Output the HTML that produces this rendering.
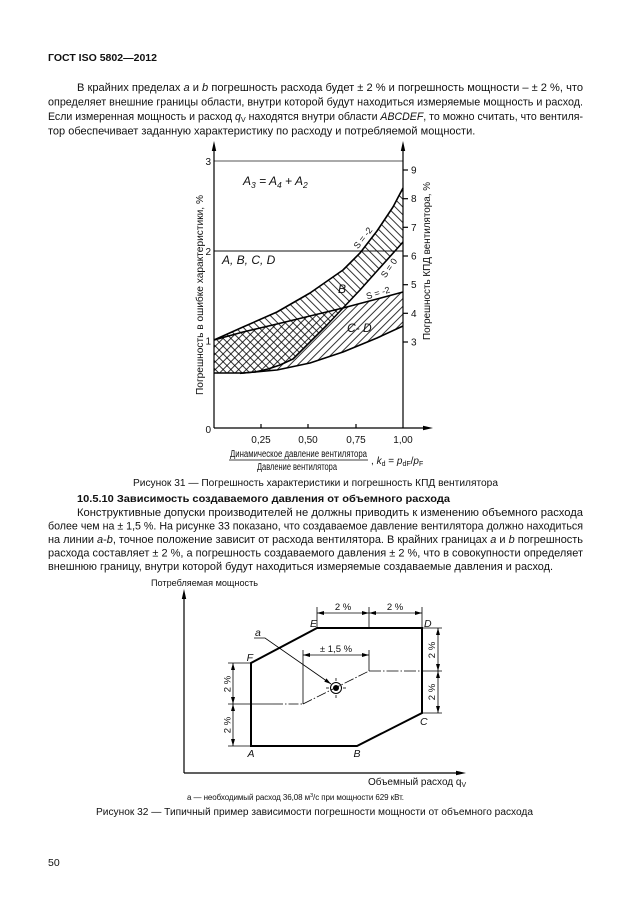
<!DOCTYPE html>
<html><head><meta charset="utf-8"><style>
html,body{margin:0;padding:0;background:#fff;}
svg{display:block;}
text{font-family:"Liberation Sans",Arial,sans-serif;fill:#111;}
</style></head><body>
<svg width="630" height="913" viewBox="0 0 630 913" xmlns="http://www.w3.org/2000/svg">
<defs>
<pattern id="hb" patternUnits="userSpaceOnUse" width="5.5" height="10" patternTransform="rotate(-45)"><line x1="1" y1="0" x2="1" y2="10" stroke="#000" stroke-width="0.8"/></pattern>
<pattern id="hc" patternUnits="userSpaceOnUse" width="5.5" height="10" patternTransform="rotate(45)"><line x1="1" y1="0" x2="1" y2="10" stroke="#000" stroke-width="0.8"/></pattern>
<marker id="ar" markerUnits="userSpaceOnUse" markerWidth="7" markerHeight="4" refX="7" refY="2" orient="auto-start-reverse"><path d="M0,0 L7,2 L0,4 z" fill="#000"/></marker>
</defs>
<rect width="630" height="913" fill="#fff"/>

<!-- Header -->
<text x="48" y="61" font-size="10.5" font-weight="bold" textLength="109" lengthAdjust="spacingAndGlyphs">ГОСТ ISO 5802—2012</text>

<!-- Paragraph 1 -->
<g font-size="11">
<text x="77" y="91" textLength="506" lengthAdjust="spacingAndGlyphs">В крайних пределах <tspan font-style="italic">a</tspan> и <tspan font-style="italic">b</tspan> погрешность расхода будет ± 2 % и погрешность мощности – ± 2 %, что</text>
<text x="48" y="105.5" textLength="535" lengthAdjust="spacingAndGlyphs">определяет внешние границы области, внутри которой будут находиться измеряемые мощность и расход.</text>
<text x="48" y="120" textLength="535" lengthAdjust="spacingAndGlyphs">Если измеренная мощность и расход <tspan font-style="italic">q</tspan><tspan font-size="7.5" dy="2">V</tspan><tspan dy="-2"> находятся внутри области </tspan><tspan font-style="italic">ABCDEF</tspan>, то можно считать, что вентиля-</text>
<text x="48" y="134.5">тор обеспечивает заданную характеристику по расходу и потребляемой мощности.</text>
</g>

<!-- Chart 1 -->
<polygon points="214,340 243,327 277,312 310,293 343,270 360,253 377,231 393,207 403,188 403,242 395,251 377,271 360,290 343,308 327,325 310,342 293,359 280,365 268,369 255,372 240,373.3 214,373" fill="url(#hb)"/>
<polygon points="214,340 243,332 277,324 310,316 343,308 377,299 403,292 403,326 377,338 343,352 310,363 277,370 243,373 214,373" fill="url(#hc)"/>

<line x1="214" y1="161" x2="403" y2="161" stroke="#555" stroke-width="0.9"/>
<line x1="214" y1="251" x2="403" y2="251" stroke="#111" stroke-width="0.9"/>

<g fill="none" stroke="#000" stroke-width="1.6" stroke-linejoin="round">
<polyline points="214,340 243,327 277,312 310,293 343,270 360,253 377,231 393,207 403,188"/>
<polyline points="240,373.3 255,372 268,369 280,365 293,359 310,342 327,325 343,308 360,290 377,271 395,251 403,242"/>
<polyline points="214,373 243,373 277,370 310,363 343,352 377,338 403,326"/>
<polyline points="214,340 243,332 277,324 310,316 343,308 377,299 403,292"/>
</g>

<!-- axes chart 1 -->
<g stroke="#000" stroke-width="1.2">
<line x1="214" y1="428" x2="214" y2="148"/>
<line x1="403" y1="428" x2="403" y2="148"/>
<line x1="214" y1="428" x2="426" y2="428"/>
<line x1="261" y1="428" x2="261" y2="424"/>
<line x1="308" y1="428" x2="308" y2="424"/>
<line x1="356" y1="428" x2="356" y2="424"/>
<line x1="403" y1="342" x2="408" y2="342"/>
<line x1="403" y1="313.3" x2="408" y2="313.3"/>
<line x1="403" y1="284.7" x2="408" y2="284.7"/>
<line x1="403" y1="256" x2="408" y2="256"/>
<line x1="403" y1="227.3" x2="408" y2="227.3"/>
<line x1="403" y1="198.7" x2="408" y2="198.7"/>
<line x1="403" y1="170" x2="408" y2="170"/>
</g>
<polygon points="214,141 211.8,151 216.2,151" fill="#000"/>
<polygon points="403,141 400.8,151 405.2,151" fill="#000"/>
<polygon points="433,428 423,425.8 423,430.2" fill="#000"/>

<g font-size="10">
<text x="211" y="165" text-anchor="end">3</text>
<text x="211" y="255" text-anchor="end">2</text>
<text x="211" y="344.5" text-anchor="end">1</text>
<text x="211" y="433" text-anchor="end">0</text>
<text x="411" y="345.5">3</text>
<text x="411" y="316.8">4</text>
<text x="411" y="288.2">5</text>
<text x="411" y="259.5">6</text>
<text x="411" y="230.8">7</text>
<text x="411" y="202.2">8</text>
<text x="411" y="173.5">9</text>
<text x="261" y="443" text-anchor="middle">0,25</text>
<text x="308" y="443" text-anchor="middle">0,50</text>
<text x="356" y="443" text-anchor="middle">0,75</text>
<text x="403" y="443" text-anchor="middle">1,00</text>
<text transform="translate(203,295) rotate(-90)" text-anchor="middle" textLength="200" lengthAdjust="spacingAndGlyphs">Погрешность в ошибке характеристики, %</text>
<text transform="translate(430,261) rotate(-90)" text-anchor="middle" textLength="158" lengthAdjust="spacingAndGlyphs">Погрешность КПД вентилятора, %</text>
</g>

<g font-style="italic" font-size="12">
<text x="243" y="185">A<tspan font-size="8.5" dy="3">3</tspan><tspan dy="-3"> = A</tspan><tspan font-size="8.5" dy="3">4</tspan><tspan dy="-3"> + A</tspan><tspan font-size="8.5" dy="3">2</tspan></text>
<text x="222" y="264">A, B, C, D</text>
<text x="338" y="293">B</text>
<text x="347" y="332">C- D</text>
</g>
<g font-size="9">
<text transform="translate(363,238) rotate(-52)" text-anchor="middle" dy="3">S = -2</text>
<text transform="translate(389,268) rotate(-55)" text-anchor="middle" dy="3">S = 0</text>
<text transform="translate(378,293) rotate(-17)" text-anchor="middle" dy="3">S = -2</text>
</g>

<!-- x label fraction -->
<g font-size="10">
<text x="230" y="457" textLength="137" lengthAdjust="spacingAndGlyphs">Динамическое давление вентилятора</text>
<line x1="229" y1="460" x2="368" y2="460" stroke="#000" stroke-width="0.8"/>
<text x="257" y="470" textLength="80" lengthAdjust="spacingAndGlyphs">Давление вентилятора</text>
<text x="371" y="464">,  <tspan font-style="italic">k</tspan><tspan font-size="7" dy="2">d</tspan><tspan dy="-2"> = </tspan><tspan font-style="italic">p</tspan><tspan font-size="7" dy="2">dF</tspan><tspan dy="-2">/</tspan><tspan font-style="italic">p</tspan><tspan font-size="7" dy="2">F</tspan></text>
</g>

<text x="133" y="486" font-size="10" textLength="365" lengthAdjust="spacingAndGlyphs">Рисунок 31 — Погрешность характеристики и погрешность КПД вентилятора</text>

<!-- Section 10.5.10 -->
<text x="77" y="502" font-size="10.5" font-weight="bold" textLength="373" lengthAdjust="spacingAndGlyphs">10.5.10 Зависимость создаваемого давления от объемного расхода</text>
<g font-size="11">
<text x="77" y="516" textLength="506" lengthAdjust="spacingAndGlyphs">Конструктивные  допуски  производителей не должны приводить к изменению объемного расхода</text>
<text x="48" y="529.5" textLength="535" lengthAdjust="spacingAndGlyphs">более чем на ± 1,5 %. На рисунке 33 показано, что создаваемое давление вентилятора должно находиться</text>
<text x="48" y="543" textLength="535" lengthAdjust="spacingAndGlyphs">на линии <tspan font-style="italic">a</tspan>-<tspan font-style="italic">b</tspan>, точное положение зависит от расхода вентилятора. В крайних границах <tspan font-style="italic">a</tspan> и <tspan font-style="italic">b</tspan> погрешность</text>
<text x="48" y="556.5" textLength="535" lengthAdjust="spacingAndGlyphs">расхода составляет ± 2 %, а погрешность создаваемого давления ± 2 %, что в совокупности определяет</text>
<text x="48" y="570" textLength="505" lengthAdjust="spacingAndGlyphs">внешнюю границу, внутри которой будут находиться измеряемые создаваемые давления и расход.</text>
</g>

<!-- Figure 32 -->
<text x="151" y="586" font-size="9.5" textLength="107" lengthAdjust="spacingAndGlyphs">Потребляемая мощность</text>
<g stroke="#000" stroke-width="1.2">
<line x1="184" y1="773" x2="184" y2="596"/>
<line x1="184" y1="773" x2="459" y2="773"/>
</g>
<polygon points="184,589 181.8,599 186.2,599" fill="#000"/>
<polygon points="466,773 456,770.8 456,775.2" fill="#000"/>

<polygon points="251,746 357,746 422,713 422,628 317,628 251,663" fill="none" stroke="#000" stroke-width="2" stroke-linejoin="miter"/>

<g stroke="#000" stroke-width="0.8" fill="none">
<line x1="228" y1="663" x2="251" y2="663"/>
<line x1="228" y1="746" x2="251" y2="746"/>
<line x1="228" y1="704" x2="273" y2="704"/>
<line x1="273" y1="704" x2="303" y2="704" stroke-dasharray="10 2 1.5 2"/>
<line x1="233" y1="663" x2="233" y2="704" marker-start="url(#ar)" marker-end="url(#ar)"/>
<line x1="233" y1="704" x2="233" y2="746" marker-start="url(#ar)" marker-end="url(#ar)"/>
<line x1="303" y1="704" x2="303" y2="650"/>
<line x1="369" y1="671" x2="369" y2="650"/>
<line x1="303" y1="655" x2="369" y2="655" marker-start="url(#ar)" marker-end="url(#ar)"/>
<line x1="303" y1="704" x2="369" y2="671" stroke-dasharray="10 2 1.5 2"/>
<line x1="369" y1="671" x2="422" y2="671" stroke-dasharray="12 2 1.5 2"/>
<line x1="422" y1="671" x2="442" y2="671"/>
<line x1="317" y1="628" x2="317" y2="607"/>
<line x1="369" y1="628" x2="369" y2="607"/>
<line x1="422" y1="628" x2="422" y2="607"/>
<line x1="317" y1="613" x2="369" y2="613" marker-start="url(#ar)" marker-end="url(#ar)"/>
<line x1="369" y1="613" x2="422" y2="613" marker-start="url(#ar)" marker-end="url(#ar)"/>
<line x1="422" y1="628" x2="442" y2="628"/>
<line x1="422" y1="713" x2="442" y2="713"/>
<line x1="438" y1="628" x2="438" y2="671" marker-start="url(#ar)" marker-end="url(#ar)"/>
<line x1="438" y1="671" x2="438" y2="713" marker-start="url(#ar)" marker-end="url(#ar)"/>
<polyline points="254,638 265,638 331,684" marker-end="url(#ar)"/>
<circle cx="336" cy="688" r="5.5" stroke-width="1"/>
<line x1="336" y1="681" x2="336" y2="678"/>
<line x1="336" y1="695" x2="336" y2="698"/>
<line x1="329" y1="688" x2="326" y2="688"/>
<line x1="343" y1="688" x2="346" y2="688"/>
</g>
<circle cx="336" cy="688" r="3" fill="#000"/>

<g font-size="9.5">
<text x="343" y="610" text-anchor="middle">2 %</text>
<text x="395" y="610" text-anchor="middle">2 %</text>
<text x="336" y="652" text-anchor="middle">± 1,5 %</text>
<text transform="translate(230.5,684) rotate(-90)" text-anchor="middle">2 %</text>
<text transform="translate(230.5,725) rotate(-90)" text-anchor="middle">2 %</text>
<text transform="translate(435,650) rotate(-90)" text-anchor="middle">2 %</text>
<text transform="translate(435,692) rotate(-90)" text-anchor="middle">2 %</text>
</g>
<g font-size="10.5" font-style="italic">
<text x="251" y="757" text-anchor="middle">A</text>
<text x="357" y="757" text-anchor="middle">B</text>
<text x="420" y="725">C</text>
<text x="424" y="627">D</text>
<text x="317" y="627" text-anchor="end">E</text>
<text x="253" y="661" text-anchor="end">F</text>
<text x="255" y="636">a</text>
</g>

<text x="368" y="785" font-size="10">Объемный расход <tspan>q</tspan><tspan font-size="7" dy="2">V</tspan></text>
<text x="187" y="800" font-size="8" textLength="217" lengthAdjust="spacing">а — необходимый расход 36,08 м<tspan font-size="5.5" dy="-3">3</tspan><tspan dy="3">/с при мощности 629 кВт.</tspan></text>
<text x="96" y="815" font-size="10" textLength="437" lengthAdjust="spacingAndGlyphs">Рисунок 32 — Типичный пример зависимости погрешности мощности от объемного расхода</text>

<text x="48" y="866" font-size="10.5">50</text>
</svg>
</body></html>
